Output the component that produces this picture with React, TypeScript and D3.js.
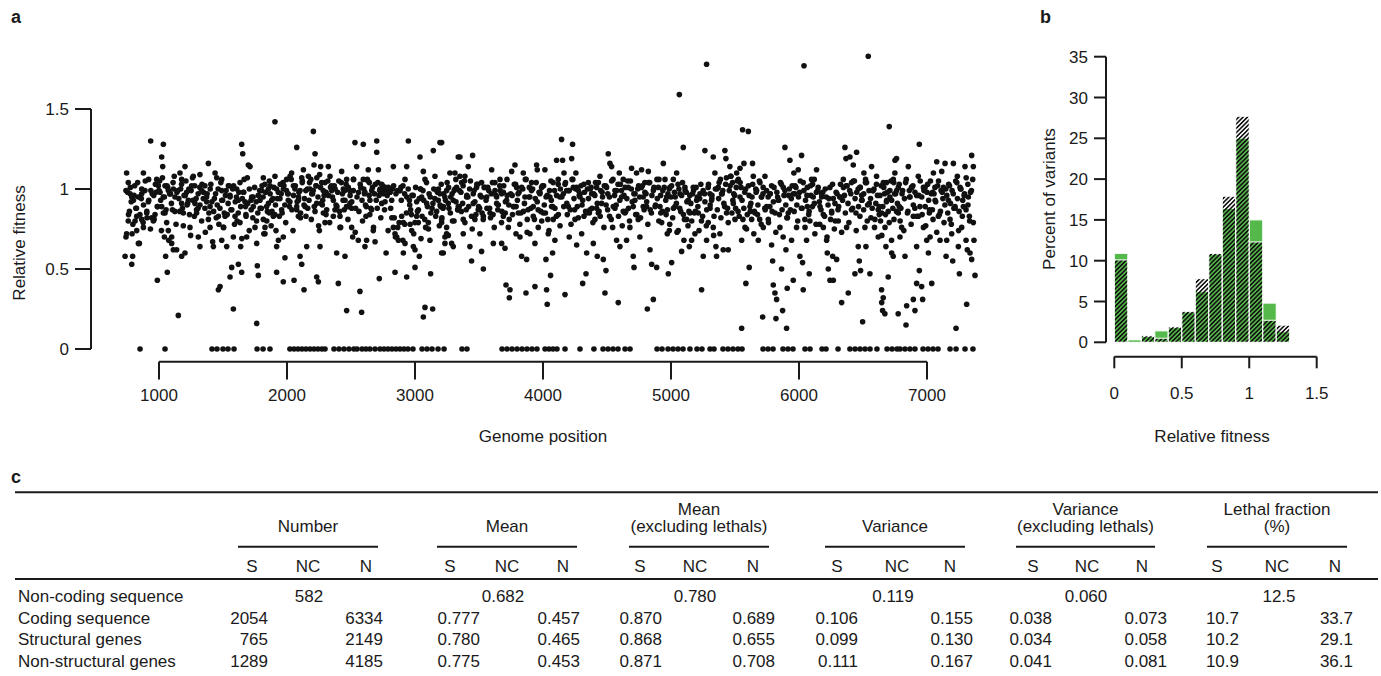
import React from "react";
import * as d3 from "d3";

const FONT = "'Liberation Sans', Arial, Helvetica, sans-serif";
const INK = "#1a1a1a";
const GREEN = "#55b84a";

// ---------- Panel a: relative fitness along the genome ----------
const genomeTicks = [1000, 2000, 3000, 4000, 5000, 6000, 7000];
const fitnessTicks = [0, 0.5, 1, 1.5];

const lethalPositions = [852, 1047, 1414, 1453, 1500, 1539, 1586, 1766, 1813, 1867, 2023, 2055, 2086, 2117, 2148, 2180, 2211, 2242, 2273, 2297, 2367, 2406, 2445, 2484, 2523, 2547, 2586, 2617, 2648, 2688, 2727, 2758, 2789, 2820, 2852, 2883, 2914, 2945, 2984, 3055, 3094, 3133, 3180, 3227, 3367, 3406, 3680, 3719, 3758, 3797, 3836, 3875, 3914, 3953, 4016, 4047, 4078, 4109, 4172, 4289, 4398, 4469, 4508, 4547, 4586, 4641, 4680, 4891, 4930, 4977, 5016, 5055, 5094, 5148, 5203, 5242, 5305, 5336, 5406, 5445, 5484, 5523, 5555, 5719, 5758, 5797, 5875, 5914, 5953, 6047, 6086, 6180, 6211, 6305, 6398, 6438, 6477, 6516, 6555, 6609, 6688, 6727, 6766, 6789, 6828, 6867, 6906, 6969, 7008, 7047, 7086, 7180, 7227, 7297, 7359];

const fitnessWest: [number, number][] = [
  [747,1.10],[760,1.04],[742,0.99],[774,0.97],[787,0.95],[800,0.93],[760,0.80],[747,0.72],[742,0.70],[735,0.58],[794,0.58],[787,0.53],[813,0.80],[826,0.83],[826,0.74],[839,0.66],[852,0.95],[865,1.00],[878,1.10],[865,0.81],[878,0.76],[935,1.30],[917,0.92],[904,0.85],[943,0.82],[956,0.80],[969,0.84],[982,1.06],[995,1.02],[987,0.43],[1008,0.98],[1021,1.20],[1034,1.28],[1029,1.14],[1021,0.89],[1034,0.85],[1047,1.02],[1042,0.70],[1052,0.58],[1065,0.48],[1073,0.99],[1086,0.97],[1060,0.79],[1073,0.74],[1099,0.70],[1112,1.00],[1125,0.95],[1099,0.66],[1112,0.62],[1138,0.62],[1151,0.21],[1164,1.10],[1177,1.06],[1177,0.91],[1190,0.85],[1177,0.58],[1203,0.60],[1203,1.14],[1216,0.98],[1229,0.93],[1242,0.76],[1255,1.02],[1268,1.08],[1281,0.91],[1294,0.85],[1307,0.70],[1320,0.64],[1320,1.09],[1333,0.99],[1346,0.94],[1359,1.02],[1372,0.92],[1386,1.16],[1399,0.89],[1399,0.76],[1425,0.64],[1438,1.10],[1451,1.07],[1464,0.83],[1464,0.37],[1477,0.39],[1490,0.99],[1490,0.68],[1503,0.76],[1516,0.83],[1529,0.64],[1490,0.93],[1542,1.02],[1555,0.95],[1555,0.45],[1568,0.51],[1581,0.25],[1581,0.70],[1594,0.83],[1607,1.00],[1620,0.93],[1620,0.53],[1633,0.79],[1638,0.64],[1646,1.28],[1654,1.22],[1659,0.98],[1672,0.92],[1680,0.83],[1685,0.70],[1646,0.48],[1698,1.15],[1711,1.14],[1724,0.95],[1737,0.89],[1750,0.76],[1763,0.66],[1763,0.16],[1768,0.52],[1776,0.46],[1789,0.93],[1802,0.99],[1815,1.07],[1815,0.81],[1828,0.76],[1828,0.72],[1841,0.89],[1854,1.00],[1862,0.85],[1867,1.02],[1880,0.93],[1893,0.83],[1906,1.42],[1906,1.08],[1914,0.74],[1919,0.64],[1919,0.48],[1932,0.98],[1945,0.94],[1958,0.87],[1971,1.00],[1971,0.70],[1971,0.42],[1984,0.57],[1997,1.06],[2010,0.97],[2023,0.92],[2036,1.10],[2050,1.02],[2055,0.43],[2076,1.26],[2076,0.89],[2089,0.93],[2089,0.83],[2102,0.99],[2102,0.58],[2115,0.53],[2115,1.07],[2128,1.12],[2133,0.37],[2141,0.89],[2148,0.83],[2154,0.64],[2167,1.08],[2180,1.00],[2193,0.97],[2206,1.36],[2211,1.15],[2219,1.22],[2227,1.02],[2232,0.91],[2232,0.45],[2245,0.42],[2253,0.74],[2258,0.64],[2263,1.14],[2271,1.04],[2279,0.93],[2284,0.85],[2297,0.79],[2305,0.98],[2323,1.14],[2336,1.08],[2349,0.99],[2362,0.93],[2375,0.87],[2388,0.60],[2401,0.41],[2414,0.83],[2414,0.76],[2427,1.11],[2440,1.00],[2453,0.93],[2453,0.58],[2466,0.24],[2466,1.06],[2479,0.89],[2492,0.91],[2505,0.76],[2513,0.70],[2518,0.99],[2531,1.29],[2544,1.14],[2557,0.68],[2570,0.36],[2583,0.23],[2596,1.28],[2596,1.06],[2609,0.98],[2617,0.83],[2622,0.68],[2609,0.64],[2635,1.12],[2643,1.04],[2648,0.93],[2661,0.87],[2674,0.74],[2688,0.67],[2701,1.30],[2701,1.23],[2714,1.12],[2727,1.00],[2721,0.44],[2740,1.03],[2753,0.97],[2766,0.92],[2774,0.60],[2792,1.01],[2805,0.98],[2818,0.93],[2831,1.14],[2831,0.76],[2844,0.72],[2844,0.48],[2857,0.70],[2870,0.68],[2883,0.99],[2896,0.83],[2909,0.79],[2909,0.60],[2922,0.66],[2935,0.45],[2935,1.14],[2922,1.06],[2948,1.30],[2956,0.93],[2966,0.87],[2974,0.74],[2987,0.64],[3000,0.62],[3000,0.51],[3013,0.83],[3026,0.79],[3034,0.58],[3039,1.20],[3044,1.00],[3052,0.95],[3065,1.11],[3065,0.20],[3078,0.26],[3078,1.06],[3091,0.91],[3104,0.79],[3117,0.68],[3122,0.47],[3138,0.25],[3143,1.24],[3156,1.08],[3169,0.99],[3182,0.93],[3195,1.29],[3200,0.89],[3208,0.79],[3221,0.60],[3234,0.70],[3247,0.99],[3260,0.91],[3273,1.10],[3286,0.66],[3299,0.93],[3312,1.00],[3338,1.20],[3346,0.89]
];

const fitnessCentre: [number, number][] = [
  [3208,1.29],[3195,0.97],[3221,0.89],[3208,0.81],[3247,0.76],[3234,0.66],[3260,0.71],[3208,0.60],[3299,0.64],[3312,1.10],[3325,1.01],[3338,0.89],[3351,1.20],[3351,1.08],[3364,1.04],[3377,0.72],[3377,0.81],[3390,1.08],[3403,0.95],[3416,1.14],[3429,0.64],[3442,0.55],[3450,1.21],[3455,0.91],[3468,0.81],[3481,1.01],[3494,0.87],[3507,0.72],[3520,1.04],[3520,0.61],[3534,0.50],[3534,0.83],[3560,0.95],[3586,0.85],[3599,1.12],[3612,0.66],[3625,0.99],[3638,0.91],[3664,1.06],[3677,0.97],[3677,0.66],[3690,0.83],[3703,0.63],[3711,0.40],[3716,0.93],[3729,0.76],[3737,0.32],[3742,0.37],[3755,1.11],[3768,0.89],[3781,1.15],[3789,0.72],[3794,1.01],[3807,0.85],[3820,0.70],[3833,0.58],[3846,1.10],[3859,0.95],[3867,0.35],[3872,0.56],[3877,0.81],[3893,1.01],[3898,0.72],[3911,1.04],[3924,0.89],[3937,0.66],[3937,0.39],[3950,1.15],[3955,1.12],[3963,0.76],[3976,0.97],[3989,1.01],[4002,0.85],[4015,1.12],[4023,0.56],[4028,0.37],[4033,0.28],[4041,0.72],[4054,0.95],[4059,0.46],[4067,0.89],[4075,0.60],[4080,0.81],[4093,0.68],[4106,1.18],[4119,1.06],[4132,0.95],[4145,1.31],[4153,1.18],[4164,1.10],[4172,0.34],[4185,0.99],[4198,0.89],[4205,0.70],[4224,1.19],[4231,1.28],[4237,1.01],[4250,0.81],[4257,1.10],[4263,0.65],[4276,0.99],[4289,0.95],[4302,0.72],[4310,0.41],[4320,0.83],[4336,0.47],[4341,0.60],[4354,1.04],[4367,0.87],[4380,0.97],[4393,0.66],[4406,0.81],[4419,1.01],[4424,0.58],[4432,0.85],[4445,1.08],[4458,0.91],[4471,0.56],[4484,0.35],[4492,0.49],[4497,1.01],[4510,1.22],[4523,1.16],[4536,1.14],[4544,0.76],[4549,0.89],[4562,0.99],[4575,0.68],[4588,0.29],[4596,1.10],[4601,0.64],[4614,0.95],[4627,1.06],[4640,0.85],[4653,0.68],[4666,1.01],[4679,0.76],[4692,1.13],[4705,0.58],[4711,0.51],[4718,0.93],[4731,1.10],[4744,0.81],[4757,0.70],[4770,1.12],[4783,0.95],[4796,1.04],[4809,0.89],[4815,0.25],[4823,1.11],[4836,0.62],[4849,0.53],[4862,0.31],[4867,1.01],[4888,0.51],[4901,1.01],[4914,0.89],[4927,0.79],[4940,1.16],[4953,1.06],[4966,0.95],[4971,0.72],[4979,0.47],[4987,0.74],[4992,1.01],[5005,0.54],[5018,1.06],[5031,0.89],[5044,1.10],[5057,0.74],[5065,1.59],[5070,0.97],[5083,0.61],[5096,1.26],[5101,0.68],[5109,1.01],[5122,0.81],[5135,0.93],[5143,0.64],[5148,0.85],[5161,0.68],[5174,1.01],[5187,0.72],[5200,0.93],[5213,0.85],[5226,0.97],[5239,0.37],[5252,0.58],[5265,1.24],[5278,1.78],[5278,0.68],[5291,0.79],[5304,0.97],[5317,0.93],[5330,1.20],[5343,1.10],[5351,0.64],[5356,0.58],[5330,0.76],[5369,1.01],[5382,0.72],[5395,0.97],[5408,0.62],[5421,1.24],[5429,1.19],[5434,0.85],[5447,0.62],[5460,1.14],[5466,1.08],[5481,1.04],[5487,0.91],[5500,0.81],[5513,1.10],[5526,1.06],[5539,0.95],[5539,1.13],[5552,0.68],[5552,0.13],[5559,1.37],[5570,1.16],[5578,0.76],[5585,0.41],[5604,1.36],[5611,0.51],[5617,0.89],[5630,0.81],[5637,1.16],[5643,1.08],[5656,0.85],[5669,0.99],[5682,0.68],[5695,1.04],[5708,0.95],[5716,0.20],[5721,0.76],[5734,1.08],[5747,0.89],[5760,0.81],[5773,0.97],[5786,0.65],[5794,0.55],[5799,0.40],[5812,0.35],[5820,0.19],[5825,0.31],[5838,0.93],[5851,0.76],[5864,0.50],[5872,0.24],[5877,1.01],[5890,1.26],[5898,0.62],[5903,0.13],[5908,0.38],[5916,0.85],[5929,1.18],[5942,0.68],[5955,0.43],[5960,1.10],[5968,0.97],[5981,0.76],[5994,1.12],[6007,0.58],[6020,1.21],[6028,0.54],[6033,0.37],[6039,1.77],[6046,0.81],[6059,0.68],[6065,0.89],[6080,0.47],[6085,0.80],[6098,1.06],[6111,0.95],[6124,0.72],[6137,1.12],[6150,1.01],[6164,0.89],[6177,0.95],[6190,0.76],[6216,0.68],[6221,0.60],[6229,0.50],[6242,0.43],[6255,0.85],[6263,0.58],[6268,0.43],[6281,0.91],[6294,0.56],[6307,0.80],[6320,0.95],[6333,0.29],[6346,1.06],[6359,1.26],[6367,1.19],[6372,0.76],[6385,0.35],[6398,1.20],[6411,1.04],[6424,1.15],[6437,0.47],[6445,0.85],[6450,1.23],[6463,0.64],[6471,0.55],[6476,1.01],[6481,0.49],[6489,0.93],[6497,0.17],[6507,1.10],[6515,0.76],[6523,0.64],[6528,1.04],[6541,1.83],[6549,0.91],[6554,0.47],[6567,1.14],[6580,0.99],[6593,0.81],[6606,1.08],[6619,0.70],[6627,0.89]
];

const fitnessEast: [number, number][] = [
  [6637,0.80],[6645,0.37],[6653,0.24],[6658,0.32],[6671,0.22],[6679,0.64],[6684,1.04],[6697,0.45],[6705,1.39],[6710,0.95],[6723,0.68],[6736,0.58],[6742,0.81],[6749,1.10],[6762,1.19],[6775,0.22],[6783,0.89],[6659,1.04],[6685,0.93],[6646,0.85],[6672,0.76],[6737,1.06],[6750,1.18],[6763,0.99],[6776,0.85],[6724,0.60],[6646,0.29],[6940,1.28],[6789,0.70],[6802,0.76],[6828,0.58],[6836,0.15],[6841,0.27],[6854,1.14],[6867,0.95],[6880,1.01],[6893,0.83],[6893,0.31],[6906,0.24],[6919,0.64],[6919,0.41],[6932,1.08],[6940,0.49],[6945,0.89],[6958,0.39],[6966,0.31],[6972,0.76],[6985,1.01],[6998,0.68],[7011,0.60],[7018,0.85],[7024,0.70],[7037,0.41],[7044,0.98],[7050,1.10],[7063,0.93],[7076,1.17],[7089,0.83],[7102,0.68],[7115,1.11],[7128,1.01],[7141,1.16],[7149,0.58],[7154,0.68],[7167,0.93],[7180,0.81],[7193,0.72],[7201,0.55],[7206,1.16],[7219,0.89],[7227,0.13],[7237,1.08],[7245,0.64],[7253,0.47],[7258,1.01],[7271,0.76],[7284,0.89],[7297,1.14],[7305,0.68],[7310,0.28],[7315,0.62],[7323,0.95],[7331,0.83],[7336,0.60],[7349,1.21],[7357,1.06],[7362,0.79],[7367,0.68],[7375,0.46],[7362,1.14],[7349,0.56]
];

// dense core of the cloud (about 0.75–1.1), read region by region
const corePositions = [
  755,769,783,796,810,824,838,851,865,879,893,906,920,936,
  959,972,986,1000,1013,1027,1042,1055,1068,1083,1097,1110,1124,1140,
  1155,1169,1183,1196,1210,1224,1238,1251,1265,1279,1293,1306,1320,1336,
  1359,1372,1386,1400,1413,1427,1442,1455,1468,1483,1497,1510,1524,1540,
  1555,1569,1583,1596,1610,1624,1638,1651,1665,1679,1693,1706,1720,1736,
  1759,1772,1786,1800,1813,1827,1842,1855,1868,1883,1897,1910,1924,1940,
  1955,1969,1983,1996,2010,2024,2038,2051,2065,2079,2093,2106,2120,2136,
  2159,2172,2186,2200,2213,2227,2242,2255,2268,2283,2297,2310,2324,2340,
  2355,2369,2383,2396,2410,2424,2438,2451,2465,2479,2493,2506,2520,2536,
  2559,2572,2586,2600,2613,2627,2642,2655,2668,2683,2697,2710,2724,2740,
  2755,2769,2783,2796,2810,2824,2838,2851,2865,2879,2893,2906,2920,2936,
  2959,2972,2986,3000,3013,3027,3042,3055,3068,3083,3097,3110,3124,3140,
  3155,3169,3183,3196,3210,3224,3238,3251,3265,3279,3293,3306,3320,3336,
  3359,3372,3386,3400,3413,3427,3442,3455,3468,3483,3497,3510,3524,3540,
  3555,3569,3583,3596,3610,3624,3638,3651,3665,3679,3693,3706,3720,3736,
  3759,3772,3786,3800,3813,3827,3842,3855,3868,3883,3897,3910,3924,3940,
  3955,3969,3983,3996,4010,4024,4038,4051,4065,4079,4093,4106,4120,4136,
  4159,4172,4186,4200,4213,4227,4242,4255,4268,4283,4297,4310,4324,4340,
  4355,4369,4383,4396,4410,4424,4438,4451,4465,4479,4493,4506,4520,4536,
  4559,4572,4586,4600,4613,4627,4642,4655,4668,4683,4697,4710,4724,4740,
  4755,4769,4783,4796,4810,4824,4838,4851,4865,4879,4893,4906,4920,4936,
  4959,4972,4986,5000,5013,5027,5042,5055,5068,5083,5097,5110,5124,5140,
  5155,5169,5183,5196,5210,5224,5238,5251,5265,5279,5293,5306,5320,5336,
  5359,5372,5386,5400,5413,5427,5442,5455,5468,5483,5497,5510,5524,5540,
  5555,5569,5583,5596,5610,5624,5638,5651,5665,5679,5693,5706,5720,5736,
  5759,5772,5786,5800,5813,5827,5842,5855,5868,5883,5897,5910,5924,5940,
  5955,5969,5983,5996,6010,6024,6038,6051,6065,6079,6093,6106,6120,6136,
  6159,6172,6186,6200,6213,6227,6242,6255,6268,6283,6297,6310,6324,6340,
  6355,6369,6383,6396,6410,6424,6438,6451,6465,6479,6493,6506,6520,6536,
  6559,6572,6586,6600,6613,6627,6642,6655,6668,6683,6697,6710,6724,6740,
  6755,6769,6783,6796,6810,6824,6838,6851,6865,6879,6893,6906,6920,6936,
  6959,6972,6986,7000,7013,7027,7042,7055,7068,7083,7097,7110,7124,7140,
  7155,7169,7183,7196,7210,7224,7238,7251,7265,7279,7293,7306,7320,7340
];
const coreFitness = [
  0.98,0.86,0.92,0.78,1.02,0.88,0.95,0.84,0.97,0.90,1.05,0.82,0.93,0.99,
  0.96,1.03,0.89,0.99,0.93,1.07,0.95,0.87,1.01,0.97,0.91,1.04,0.86,0.98,
  0.94,1.00,0.88,0.96,1.05,0.91,0.84,0.99,0.93,1.02,0.87,0.97,0.90,1.03,
  0.88,0.95,0.81,1.00,0.92,0.86,0.97,0.90,0.78,1.04,0.93,0.85,0.99,0.91,
  0.96,0.87,1.02,0.92,0.80,0.98,0.89,0.94,1.06,0.84,0.91,1.00,0.87,0.95,
  0.92,0.85,0.99,0.88,0.95,1.03,0.80,0.91,0.97,0.86,1.01,0.90,0.94,0.83,
  0.97,1.04,0.90,0.99,0.93,1.08,0.87,0.96,1.02,0.92,0.98,0.85,1.05,0.94,
  1.00,0.93,1.06,0.97,0.89,1.02,0.95,1.09,0.91,0.99,1.04,0.87,0.96,1.01,
  0.95,1.02,0.90,0.98,0.86,1.04,0.93,0.99,0.89,1.01,0.96,0.92,1.06,0.88,
  0.98,1.03,0.93,1.00,0.90,1.06,0.96,0.88,1.01,0.97,0.93,1.04,0.99,0.91,
  0.99,1.01,0.96,0.98,0.88,1.00,0.82,0.97,0.76,0.99,0.93,1.02,0.78,0.95,
  0.90,0.84,0.96,0.79,0.92,0.87,1.00,0.83,0.93,0.76,0.89,0.97,0.85,0.91,
  0.94,0.86,1.00,0.90,0.82,0.97,0.93,1.04,0.88,0.95,0.80,0.99,0.92,0.87,
  0.98,0.91,1.05,0.87,0.95,1.00,0.83,0.97,0.92,1.03,0.89,0.96,0.85,1.01,
  0.93,1.01,0.88,0.97,0.84,1.04,0.95,0.90,0.99,0.86,1.02,0.92,0.96,0.81,
  0.96,0.89,1.03,0.93,0.98,0.85,1.00,0.91,1.06,0.87,0.95,0.99,0.83,0.94,
  0.92,0.98,0.86,1.02,0.90,0.95,0.81,0.99,0.93,1.04,0.88,0.96,0.84,1.00,
  0.97,1.03,0.91,0.99,0.87,1.06,0.94,1.00,0.89,0.96,1.02,0.93,0.98,0.85,
  0.94,1.00,0.88,0.97,1.04,0.91,0.86,0.99,0.95,1.02,0.90,0.97,0.83,1.05,
  0.96,0.90,1.03,0.93,0.99,0.86,1.01,0.94,0.88,1.05,0.92,0.97,0.84,1.00,
  0.95,1.01,0.89,0.98,0.92,1.04,0.87,0.96,1.00,0.90,0.94,1.06,0.85,0.99,
  0.93,0.87,1.00,0.95,0.82,0.98,0.91,1.03,0.88,0.96,0.84,0.99,0.92,0.86,
  0.91,0.97,0.85,1.01,0.89,0.94,0.80,0.99,0.92,0.87,1.03,0.90,0.96,0.83,
  1.00,0.94,1.06,0.97,0.91,1.03,0.88,0.99,1.08,0.93,0.96,1.01,0.86,1.04,
  0.93,0.88,1.00,0.84,0.96,0.91,1.03,0.86,0.98,0.90,0.81,0.95,1.01,0.87,
  0.95,0.89,1.02,0.92,0.85,0.98,0.93,1.04,0.87,0.96,0.90,0.82,1.00,0.94,
  0.97,1.02,0.90,0.95,1.05,0.88,0.99,0.93,1.01,0.86,0.96,1.03,0.91,0.98,
  0.92,0.87,0.98,0.83,0.95,0.90,1.01,0.86,0.94,0.80,0.97,0.89,1.03,0.93,
  0.96,1.02,0.91,0.99,0.87,1.05,0.94,0.98,0.89,1.01,0.93,0.97,1.06,0.90,
  0.94,0.88,1.00,0.91,0.96,0.84,1.02,0.89,0.97,0.92,0.86,0.99,0.93,1.04,
  0.97,0.91,1.03,0.88,0.99,0.94,1.06,0.86,0.95,1.01,0.90,0.98,0.83,0.96,
  0.95,1.01,0.89,0.98,0.93,1.05,0.87,0.97,0.92,1.02,0.84,0.99,0.94,0.90,
  0.96,1.03,0.91,0.99,0.88,1.05,0.94,0.86,1.00,0.93,0.97,1.07,0.90,0.98
];

// lower shoulder of the cloud (about 0.65–0.9)
const shoulderPositions = [
  762,790,819,847,876,905,933, 962,990,1019,1047,1076,1105,1133, 1162,1190,1219,1247,1276,1305,1333,
  1362,1390,1419,1447,1476,1505,1533, 1562,1590,1619,1647,1676,1705,1733, 1762,1790,1819,1847,1876,1905,1933,
  1962,1990,2019,2047,2076,2105,2133, 2162,2190,2219,2247,2276,2305,2333, 2362,2390,2419,2447,2476,2505,2533,
  2562,2590,2619,2647,2676,2705,2733, 2762,2790,2819,2847,2876,2905,2933, 2962,2990,3019,3047,3076,3105,3133,
  3162,3190,3219,3247,3276,3305,3333, 3362,3390,3419,3447,3476,3505,3533, 3562,3590,3619,3647,3676,3705,3733,
  3762,3790,3819,3847,3876,3905,3933, 3962,3990,4019,4047,4076,4105,4133, 4162,4190,4219,4247,4276,4305,4333,
  4362,4390,4419,4447,4476,4505,4533, 4562,4590,4619,4647,4676,4705,4733, 4762,4790,4819,4847,4876,4905,4933,
  4962,4990,5019,5047,5076,5105,5133, 5162,5190,5219,5247,5276,5305,5333, 5362,5390,5419,5447,5476,5505,5533,
  5562,5590,5619,5647,5676,5705,5733, 5762,5790,5819,5847,5876,5905,5933, 5962,5990,6019,6047,6076,6105,6133,
  6162,6190,6219,6247,6276,6305,6333, 6362,6390,6419,6447,6476,6505,6533, 6562,6590,6619,6647,6676,6705,6733,
  6762,6790,6819,6847,6876,6905,6933, 6962,6990,7019,7047,7076,7105,7133, 7162,7190,7219,7247,7276,7305,7333
];
const shoulderFitness = [
  0.84,0.72,0.88,0.66,0.79,0.86,0.75, 0.81,0.89,0.74,0.85,0.68,0.87,0.78, 0.86,0.77,0.90,0.71,0.83,0.88,0.80,
  0.73,0.85,0.67,0.82,0.88,0.76,0.84, 0.87,0.78,0.85,0.69,0.89,0.74,0.82, 0.80,0.88,0.72,0.86,0.77,0.84,0.68,
  0.85,0.79,0.89,0.74,0.87,0.82,0.90, 0.88,0.81,0.86,0.77,0.90,0.84,0.79, 0.83,0.89,0.76,0.87,0.81,0.88,0.73,
  0.86,0.80,0.89,0.84,0.76,0.88,0.82, 0.87,0.74,0.82,0.70,0.79,0.68,0.85, 0.78,0.72,0.86,0.69,0.81,0.75,0.88,
  0.83,0.77,0.88,0.72,0.85,0.80,0.87, 0.86,0.79,0.89,0.75,0.84,0.88,0.81, 0.88,0.82,0.76,0.87,0.79,0.85,0.90,
  0.84,0.89,0.78,0.86,0.73,0.88,0.81, 0.87,0.80,0.85,0.74,0.89,0.83,0.77, 0.89,0.84,0.78,0.87,0.82,0.90,0.86,
  0.85,0.79,0.88,0.83,0.76,0.87,0.81, 0.88,0.83,0.77,0.86,0.80,0.89,0.84, 0.82,0.87,0.78,0.85,0.89,0.80,0.86,
  0.84,0.78,0.88,0.73,0.86,0.81,0.77, 0.80,0.86,0.74,0.83,0.77,0.88,0.71, 0.87,0.82,0.89,0.79,0.85,0.88,0.83,
  0.81,0.75,0.86,0.72,0.84,0.78,0.88, 0.79,0.86,0.73,0.84,0.70,0.82,0.87, 0.86,0.80,0.88,0.76,0.84,0.89,0.78,
  0.78,0.84,0.70,0.81,0.75,0.87,0.73, 0.85,0.79,0.88,0.74,0.83,0.87,0.80, 0.82,0.76,0.87,0.71,0.84,0.79,0.88,
  0.86,0.80,0.74,0.85,0.78,0.88,0.83, 0.84,0.77,0.87,0.81,0.73,0.86,0.79, 0.85,0.78,0.88,0.74,0.83,0.87,0.80
];

// upper crest of the cloud (about 0.93–1.08)
const crestPositions = [
  776,805,833,862,890,919,947, 976,1005,1033,1062,1090,1119,1147, 1176,1205,1233,1262,1290,1319,1347,
  1376,1405,1433,1462,1490,1519,1547, 1576,1605,1633,1662,1690,1719,1747, 1776,1805,1833,1862,1890,1919,1947,
  1976,2005,2033,2062,2090,2119,2147, 2176,2205,2233,2262,2290,2319,2347, 2376,2405,2433,2462,2490,2519,2547,
  2576,2605,2633,2662,2690,2719,2747, 2776,2805,2833,2862,2890,2919,2947, 2976,3005,3033,3062,3090,3119,3147,
  3176,3205,3233,3262,3290,3319,3347, 3376,3405,3433,3462,3490,3519,3547, 3576,3605,3633,3662,3690,3719,3747,
  3776,3805,3833,3862,3890,3919,3947, 3976,4005,4033,4062,4090,4119,4147, 4176,4205,4233,4262,4290,4319,4347,
  4376,4405,4433,4462,4490,4519,4547, 4576,4605,4633,4662,4690,4719,4747, 4776,4805,4833,4862,4890,4919,4947,
  4976,5005,5033,5062,5090,5119,5147, 5176,5205,5233,5262,5290,5319,5347, 5376,5405,5433,5462,5490,5519,5547,
  5576,5605,5633,5662,5690,5719,5747, 5776,5805,5833,5862,5890,5919,5947, 5976,6005,6033,6062,6090,6119,6147,
  6176,6205,6233,6262,6290,6319,6347, 6376,6405,6433,6462,6490,6519,6547, 6576,6605,6633,6662,6690,6719,6747,
  6776,6805,6833,6862,6890,6919,6947, 6976,7005,7033,7062,7090,7119,7147, 7176,7205,7233,7262,7290,7319,7347
];
const crestFitness = [
  1.01,0.96,1.04,0.94,0.99,1.06,0.97, 0.98,1.05,0.95,1.02,0.97,1.08,0.99, 1.03,0.96,1.00,1.07,0.94,1.01,0.98,
  0.97,1.03,0.94,1.00,1.06,0.96,1.02, 1.00,0.95,1.04,0.98,1.07,0.93,1.01, 0.96,1.02,0.98,1.05,0.94,1.00,1.03,
  1.02,0.97,1.06,1.00,0.95,1.04,0.99, 1.04,0.99,1.07,1.01,0.96,1.05,1.02, 1.00,1.05,0.97,1.03,0.99,1.06,0.95,
  1.01,0.97,1.05,0.99,1.03,0.96,1.02, 1.00,0.98,1.02,0.99,1.01,0.97,1.00, 0.96,1.01,0.94,0.99,1.04,0.95,1.00,
  0.98,1.03,0.95,1.01,0.97,1.06,0.99, 1.02,0.96,1.05,0.99,1.03,0.95,1.01, 0.99,1.04,0.96,1.02,0.98,1.06,0.97,
  1.03,0.97,1.01,1.06,0.95,1.00,1.04, 0.98,1.02,0.96,1.05,0.99,1.03,0.95, 1.04,0.99,1.06,1.01,0.97,1.03,1.00,
  1.01,0.96,1.04,0.98,1.02,0.95,1.06, 0.99,1.03,0.96,1.05,1.00,0.97,1.02, 1.02,0.97,1.04,0.99,1.06,0.96,1.01,
  0.97,1.02,0.95,1.00,1.04,0.98,0.96, 0.99,0.95,1.03,0.97,1.01,0.94,1.00, 1.04,0.99,1.07,1.02,0.97,1.05,1.01,
  0.98,1.02,0.95,1.00,1.05,0.97,0.99, 0.97,1.01,0.95,1.03,0.99,0.96,1.02, 1.01,0.98,1.04,0.96,1.02,1.06,0.99,
  0.97,1.00,0.94,1.03,0.98,0.95,1.01, 1.02,0.97,1.05,1.00,0.96,1.04,0.99, 0.99,1.03,0.96,1.01,0.98,1.05,0.97,
  1.01,0.97,1.04,0.99,1.02,0.96,1.05, 0.99,1.03,0.97,1.01,1.05,0.98,1.00, 1.02,0.97,1.04,1.00,0.96,1.03,0.99
];

// ---------- Panel b: histogram ----------
const binStarts = [0, 0.1, 0.2, 0.3, 0.4, 0.5, 0.6, 0.7, 0.8, 0.9, 1.0, 1.1, 1.2];
const percentSolid = [10.9, 0.3, 0.7, 1.4, 1.8, 3.7, 6.2, 10.8, 16.4, 25.0, 15.0, 4.8, 1.3];
const percentHatched = [10.1, 0, 0.8, 0.5, 1.9, 3.8, 7.8, 10.9, 17.9, 27.7, 12.3, 2.7, 2.1];
const percentTicks = [0, 5, 10, 15, 20, 25, 30, 35];
const histFitnessTicks = [0, 0.5, 1, 1.5];

// ---------- Panel c: table ----------
const rowLabels = ["Non-coding sequence", "Coding sequence", "Structural genes", "Non-structural genes"];
const groupTitles = [["Number"], ["Mean"], ["Mean", "(excluding lethals)"], ["Variance"], ["Variance", "(excluding lethals)"], ["Lethal fraction", "(%)"]];
const subHeads = ["S", "NC", "N"];
const numberValues = [["", "582", ""], ["2054", "", "6334"], ["765", "", "2149"], ["1289", "", "4185"]];
const meanValues = [["", "0.682", ""], ["0.777", "", "0.457"], ["0.780", "", "0.465"], ["0.775", "", "0.453"]];
const meanExclValues = [["", "0.780", ""], ["0.870", "", "0.689"], ["0.868", "", "0.655"], ["0.871", "", "0.708"]];
const varianceValues = [["", "0.119", ""], ["0.106", "", "0.155"], ["0.099", "", "0.130"], ["0.111", "", "0.167"]];
const varianceExclValues = [["", "0.060", ""], ["0.038", "", "0.073"], ["0.034", "", "0.058"], ["0.041", "", "0.081"]];
const lethalFractionValues = [["", "12.5", ""], ["10.7", "", "33.7"], ["10.2", "", "29.1"], ["10.9", "", "36.1"]];

const groupValues = [numberValues, meanValues, meanExclValues, varianceValues, varianceExclValues, lethalFractionValues];
const groupLayout = [
  { x0: 238, x1: 378, sub: [252, 308, 366], val: [268, 309, 383] },
  { x0: 437, x1: 577, sub: [450, 507, 563], val: [480, 503, 580] },
  { x0: 629, x1: 769, sub: [640, 695, 753], val: [662, 695, 775] },
  { x0: 825, x1: 965, sub: [837, 897, 950], val: [858, 893, 973] },
  { x0: 1016, x1: 1155, sub: [1033, 1087, 1142], val: [1052, 1086, 1167] },
  { x0: 1207, x1: 1347, sub: [1217, 1277, 1335], val: [1239, 1279, 1353] },
];

export default function App() {
  const xA = d3.scaleLinear().domain([1000, 7000]).range([159, 927]);
  const yA = d3.scaleLinear().domain([0, 1.5]).range([349, 109]);
  const pair = (ps: number[], fs: number[]): [number, number][] => ps.map((p, i) => [p, fs[i]]);
  const allPoints = [
    ...pair(shoulderPositions, shoulderFitness),
    ...pair(corePositions, coreFitness),
    ...pair(crestPositions, crestFitness),
    ...fitnessWest, ...fitnessCentre, ...fitnessEast,
  ];

  const xB = d3.scaleLinear().domain([0, 1.5]).range([1114.3, 1316.7]);
  const yB = d3.scaleLinear().domain([0, 35]).range([342.3, 56.7]);
  const binW = 0.1;

  const txt = { fontFamily: FONT, fontSize: 17, fill: INK } as const;
  const R = 2.8;

  return (
    <svg width={1381} height={676} style={{ position: "absolute", left: 0, top: 0, background: "#fff" }}>
      <defs>
        <pattern id="hatch" patternUnits="userSpaceOnUse" width={3.1} height={3.1} patternTransform="rotate(45)">
          <rect x={0} y={0} width={1.6} height={3.1} fill="#111" />
        </pattern>
      </defs>
      <rect x={0} y={0} width={1381} height={676} fill="#fff" />

      <text x={11} y={23} style={{ ...txt, fontSize: 18, fontWeight: "bold" }}>a</text>
      <text x={1040} y={23} style={{ ...txt, fontSize: 18, fontWeight: "bold" }}>b</text>
      <text x={11} y={483} style={{ ...txt, fontSize: 18, fontWeight: "bold" }}>c</text>

      {/* ---- panel a ---- */}
      <g>
        <line x1={91} x2={91} y1={yA(1.5)} y2={yA(0)} stroke={INK} strokeWidth={2} />
        {fitnessTicks.map((t) => (
          <g key={t}>
            <line x1={75} x2={91} y1={yA(t)} y2={yA(t)} stroke={INK} strokeWidth={2} />
            <text x={69} y={yA(t) + 6} textAnchor="end" style={txt}>{t}</text>
          </g>
        ))}
        <text transform={`translate(24.5,243) rotate(-90)`} textAnchor="middle" style={txt}>Relative fitness</text>

        <line x1={xA(1000)} x2={xA(7000)} y1={361.7} y2={361.7} stroke={INK} strokeWidth={2} />
        {genomeTicks.map((t) => (
          <g key={t}>
            <line x1={xA(t)} x2={xA(t)} y1={361.7} y2={379.5} stroke={INK} strokeWidth={2} />
            <text x={xA(t)} y={401} textAnchor="middle" style={txt}>{t}</text>
          </g>
        ))}
        <text x={xA(4000)} y={442} textAnchor="middle" style={txt}>Genome position</text>

        {allPoints.map(([p, f], i) => (
          <circle key={"p" + i} cx={xA(p)} cy={yA(f)} r={R} fill="#111" />
        ))}
        {lethalPositions.map((p, i) => (
          <circle key={"l" + i} cx={xA(p)} cy={yA(0)} r={R} fill="#111" />
        ))}
      </g>

      {/* ---- panel b ---- */}
      <g>
        <line x1={1106} x2={1106} y1={yB(35)} y2={yB(0)} stroke={INK} strokeWidth={2} />
        {percentTicks.map((t) => (
          <g key={t}>
            <line x1={1094} x2={1106} y1={yB(t)} y2={yB(t)} stroke={INK} strokeWidth={2} />
            <text x={1088} y={yB(t) + 6} textAnchor="end" style={txt}>{t}</text>
          </g>
        ))}
        <text transform={`translate(1054.5,199) rotate(-90)`} textAnchor="middle" style={txt}>Percent of variants</text>

        {binStarts.map((b, i) => (
          <rect key={"s" + i} x={xB(b)} width={xB(b + binW) - xB(b)} y={yB(percentSolid[i])}
            height={yB(0) - yB(percentSolid[i])} fill={GREEN} stroke="#fff" strokeWidth={1} />
        ))}
        {binStarts.map((b, i) =>
          percentHatched[i] > 0 ? (
            <rect key={"h" + i} x={xB(b)} width={xB(b + binW) - xB(b)} y={yB(percentHatched[i])}
              height={yB(0) - yB(percentHatched[i])} fill="url(#hatch)" stroke="#fff" strokeWidth={1} />
          ) : null
        )}

        <line x1={xB(0)} x2={xB(1.5)} y1={356.7} y2={356.7} stroke={INK} strokeWidth={2} />
        {histFitnessTicks.map((t) => (
          <g key={t}>
            <line x1={xB(t)} x2={xB(t)} y1={356.7} y2={368.3} stroke={INK} strokeWidth={2} />
            <text x={xB(t)} y={398.5} textAnchor="middle" style={txt}>{t}</text>
          </g>
        ))}
        <text x={1212} y={441.5} textAnchor="middle" style={txt}>Relative fitness</text>
      </g>

      {/* ---- panel c ---- */}
      <g>
        <line x1={15} x2={1378} y1={492.3} y2={492.3} stroke={INK} strokeWidth={2} />
        <line x1={15} x2={1378} y1={579} y2={579} stroke={INK} strokeWidth={2.2} />
        {groupTitles.map((lines, g) => {
          const L = groupLayout[g];
          const cx = (L.x0 + L.x1) / 2;
          return (
            <g key={"g" + g}>
              {lines.length === 1 ? (
                <text x={cx} y={532} textAnchor="middle" style={txt}>{lines[0]}</text>
              ) : (
                <>
                  <text x={cx} y={515} textAnchor="middle" style={txt}>{lines[0]}</text>
                  <text x={cx} y={532} textAnchor="middle" style={txt}>{lines[1]}</text>
                </>
              )}
              <line x1={L.x0} x2={L.x1} y1={546.7} y2={546.7} stroke={INK} strokeWidth={2} />
              {subHeads.map((s, k) => (
                <text key={s} x={L.sub[k]} y={572} textAnchor="middle" style={txt}>{s}</text>
              ))}
              {groupValues[g].map((row, r) =>
                row.map((v, k) =>
                  v ? (
                    <text key={r + "-" + k} x={L.val[k]} y={602 + r * 21.5}
                      textAnchor={k === 1 ? "middle" : "end"} style={txt}>{v}</text>
                  ) : null
                )
              )}
            </g>
          );
        })}
        {rowLabels.map((l, r) => (
          <text key={l} x={18} y={602 + r * 21.5} style={txt}>{l}</text>
        ))}
      </g>
    </svg>
  );
}
